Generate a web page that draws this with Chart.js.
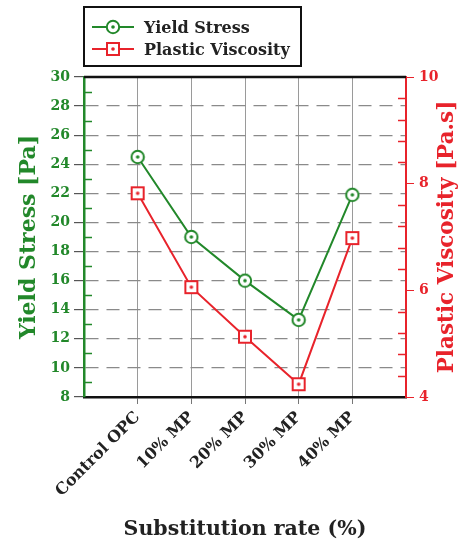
<!DOCTYPE html>
<html>
<head>
<meta charset="utf-8">
<script src="https://cdn.jsdelivr.net/npm/chart.js@4.4.1/dist/chart.umd.min.js"></script>
<style>
  html, body { margin: 0; padding: 0; background: #fff; }
  #wrap { position: relative; width: 469px; height: 548px; }
  #legend { position: absolute; left: 83px; top: 6px; width: 219px; height: 61px; border: 2px solid #111; box-sizing: border-box; background: #fff; }
  #legend ul { list-style: none; margin: 0; padding: 8px 0 0 7px; }
  #legend li { display: flex; align-items: center; height: 22px; }
  #legend li span { font: bold 16px "DejaVu Serif", serif; color: #222; margin-left: 10px; }
</style>
</head>
<body>
<div id="wrap">
  <canvas id="chart" width="469" height="548"></canvas>
  <div id="legend"><ul></ul></div>
</div>
<script>
// data
const categories = ['Control OPC', '10% MP', '20% MP', '30% MP', '40% MP'];
const yieldStress = [24.5, 19.0, 16.0, 13.3, 21.9];        // Pa
const plasticViscosity = [7.82, 6.06, 5.13, 4.24, 6.98];   // Pa.s

const leftTicks = { min: 8, max: 30, step: 2, minorStep: 1 };
const rightTicks = { min: 4, max: 10, step: 2, minorStep: 0.4 };

const green = '#22882a';
const red = '#e8232b';
const serif = '"DejaVu Serif", serif';

// an empty slot each side of the categories, like the original
const labels = ['', ...categories, ''];
const pad = (arr) => [null, ...arr, null];

// hollow marker with a dot in the middle
const makeMarker = (shape, color) => {
  const c = document.createElement('canvas');
  c.width = 16; c.height = 16;
  const g = c.getContext('2d');
  g.lineWidth = 2;
  g.strokeStyle = color;
  g.fillStyle = '#fff';
  if (shape === 'circle') {
    g.beginPath(); g.arc(8, 8, 6.2, 0, Math.PI * 2); g.fill(); g.stroke();
  } else {
    g.fillRect(2, 2, 12, 12); g.strokeRect(2, 2, 12, 12);
  }
  g.fillStyle = color;
  g.beginPath(); g.arc(8, 8, 1.8, 0, Math.PI * 2); g.fill();
  return c;
};

const circleMarker = makeMarker('circle', green);
const squareMarker = makeMarker('square', red);

// minor ticks on the inside of both value axes + top frame line
const frame = {
  id: 'frame',
  afterDraw(c) {
    const { ctx, chartArea } = c;
    const yl = c.scales.y;
    const yr = c.scales.y1;
    ctx.save();
    ctx.lineWidth = 1.5;
    ctx.strokeStyle = green;
    for (let v = leftTicks.min + leftTicks.minorStep; v < leftTicks.max; v += leftTicks.step) {
      const y = Math.round(yl.getPixelForValue(v)) + 0.5;
      ctx.beginPath(); ctx.moveTo(chartArea.left, y); ctx.lineTo(chartArea.left + 8, y); ctx.stroke();
    }
    ctx.strokeStyle = red;
    const n = Math.round((rightTicks.max - rightTicks.min) / rightTicks.minorStep);
    for (let i = 1; i < n; i++) {
      if (i % 5 === 0) continue;
      const y = Math.round(yr.getPixelForValue(rightTicks.min + i * rightTicks.minorStep)) + 0.5;
      ctx.beginPath(); ctx.moveTo(chartArea.right - 8, y); ctx.lineTo(chartArea.right, y); ctx.stroke();
    }
    // top frame
    ctx.lineWidth = 2.5;
    ctx.strokeStyle = '#111';
    ctx.beginPath(); ctx.moveTo(chartArea.left, chartArea.top); ctx.lineTo(chartArea.right, chartArea.top); ctx.stroke();

    // right axis title reads bottom to top
    ctx.translate(yr.right - 22, (chartArea.top + chartArea.bottom) / 2);
    ctx.rotate(-Math.PI / 2);
    ctx.fillStyle = red;
    ctx.font = 'bold 21.5px ' + serif;
    ctx.textAlign = 'center';
    ctx.textBaseline = 'middle';
    ctx.fillText('Plastic Viscosity [Pa.s]', 0, 0);
    ctx.restore();
  }
};

const htmlLegend = {
  id: 'htmlLegend',
  afterUpdate(c) {
    const ul = document.querySelector('#legend ul');
    while (ul.firstChild) ul.firstChild.remove();
    c.data.datasets.forEach((ds) => {
      const li = document.createElement('li');
      const sw = document.createElement('canvas');
      sw.width = 42; sw.height = 16;
      const g = sw.getContext('2d');
      g.strokeStyle = ds.borderColor;
      g.lineWidth = 2;
      g.beginPath(); g.moveTo(0, 8); g.lineTo(42, 8); g.stroke();
      g.drawImage(ds.pointStyle, 13, 0);
      const label = document.createElement('span');
      label.textContent = ds.label;
      li.appendChild(sw);
      li.appendChild(label);
      ul.appendChild(li);
    });
  }
};

new Chart(document.getElementById('chart'), {
  type: 'line',
  data: {
    labels: labels,
    datasets: [
      {
        label: 'Yield Stress',
        data: pad(yieldStress),
        yAxisID: 'y',
        borderColor: green,
        borderWidth: 2,
        pointStyle: circleMarker,
      },
      {
        label: 'Plastic Viscosity',
        data: pad(plasticViscosity),
        yAxisID: 'y1',
        borderColor: red,
        borderWidth: 2,
        pointStyle: squareMarker,
      },
    ],
  },
  options: {
    responsive: false,
    animation: false,
    layout: { padding: { top: 77, left: 0, right: 0, bottom: 0 } },
    plugins: {
      legend: { display: false },
      tooltip: { enabled: false },
    },
    scales: {
      x: {
        afterFit(s) { s.height = 151; },
        grid: {
          color: '#9a9a9a',
          lineWidth: 1,
          tickLength: 7,
          tickColor: (ctx) => (ctx.index === 0 || ctx.index === labels.length - 1 ? 'rgba(0,0,0,0)' : '#777'),
        },
        border: { color: '#111', width: 2.5 },
        ticks: {
          autoSkip: false,
          maxRotation: 45,
          minRotation: 45,
          padding: 4,
          color: '#222',
          font: { family: serif, size: 16, weight: 'bold' },
        },
        title: {
          display: true,
          text: 'Substitution rate (%)',
          color: '#222',
          font: { family: serif, size: 20.5, weight: 'bold' },
          padding: { top: 0, bottom: 6 },
        },
      },
      y: {
        position: 'left',
        min: leftTicks.min,
        max: leftTicks.max,
        afterFit(s) { s.width = 84; },
        ticks: {
          stepSize: leftTicks.step,
          padding: 4,
          color: green,
          font: { family: serif, size: 14, weight: 'bold' },
        },
        grid: {
          color: '#8a8a8a',
          lineWidth: 1.2,
          tickLength: 10,
          tickColor: '#555',
        },
        border: { color: green, width: 2.5, dash: [13, 8] },
        title: {
          display: true,
          text: 'Yield Stress [Pa]',
          color: green,
          font: { family: serif, size: 22, weight: 'bold' },
          padding: { top: 16, bottom: 0 },
        },
      },
      y1: {
        position: 'right',
        min: rightTicks.min,
        max: rightTicks.max,
        afterFit(s) { s.width = 63; },
        ticks: {
          stepSize: rightTicks.step,
          padding: 5,
          color: red,
          font: { family: serif, size: 14, weight: 'bold' },
        },
        grid: {
          drawOnChartArea: false,
          tickLength: 8,
          tickColor: red,
        },
        border: { color: red, width: 2 },
      },
    },
  },
  plugins: [frame, htmlLegend],
});
</script>
</body>
</html>
